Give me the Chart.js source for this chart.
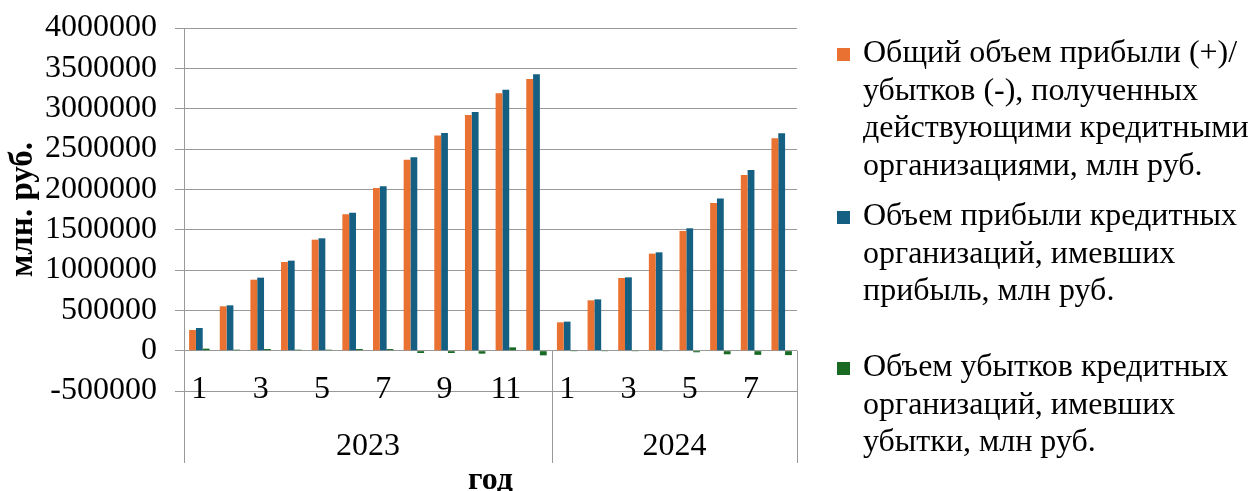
<!DOCTYPE html>
<html lang="ru">
<head>
<meta charset="utf-8">
<title>Прибыль и убытки кредитных организаций</title>
<script src="https://cdn.jsdelivr.net/npm/chart.js@4.4.1/dist/chart.umd.min.js"></script>
<style>
  html, body { margin: 0; padding: 0; background: #fff; }
  #wrap { position: relative; width: 1251px; height: 491px; }
  #legend { position: absolute; left: 0; top: 0; font-family: "Liberation Serif", "Times New Roman", serif; font-size: 32px; color: #000; }
  .lg-item { position: absolute; left: 837px; line-height: 37.5px; }
  .lg-box { position: absolute; left: 0; width: 13px; height: 13px; }
  .lg-text { position: absolute; left: 26px; white-space: nowrap; }
</style>
</head>
<body>
<div id="wrap">
  <canvas id="chart" width="1251" height="491"></canvas>
  <div id="legend"></div>
</div>
<script>
// ── Data ─────────────────────────────────────────────
const years = ['2023', '2024'];
const monthsPerYear = [12, 8];
const monthLabels = ['1', '2', '3', '4', '5', '6', '7', '8', '9', '10', '11', '12',
                     '1', '2', '3', '4', '5', '6', '7', '8'];

// Общий объем прибыли (+)/убытков (-)
const totalResult = [256000, 550000, 880000, 1099000, 1376000, 1690000, 2017000, 2368000, 2666000, 2922000, 3191000, 3368000,
                     351000, 624000, 901000, 1203000, 1484000, 1831000, 2178000, 2633000];
// Объем прибыли организаций, имевших прибыль
const profitVolume = [281000, 562000, 905000, 1116000, 1393000, 1711000, 2038000, 2397000, 2699000, 2959000, 3236000, 3426000,
                      360000, 636000, 909000, 1219000, 1517000, 1885000, 2240000, 2695000];
// Объем убытков организаций, имевших убытки
const lossVolume = [25000, 12000, 20000, 12000, 12000, 20000, 20000, -29000, -29000, -37000, 41000, -58000,
                    -1500, -3000, -3000, -8000, -20000, -45000, -52000, -55000];

const seriesNames = [
  ['Общий объем прибыли (+)/', 'убытков (-), полученных', 'действующими кредитными', 'организациями, млн руб.'],
  ['Объем прибыли кредитных', 'организаций, имевших', 'прибыль, млн руб.'],
  ['Объем убытков кредитных', 'организаций, имевших', 'убытки, млн руб.']
];
const seriesColors = ['#E97132', '#156082', '#196B24'];
const yTicks = [-500000, 0, 500000, 1000000, 1500000, 2000000, 2500000, 3000000, 3500000, 4000000];

const FONT = '"Liberation Serif", "Times New Roman", serif';
const gridColor = '#999999';

// ── Category axis with month / year levels ───────────
const categoryAxis = {
  id: 'categoryAxis',
  afterDraw(chart) {
    const { ctx, chartArea: a, scales: { x, y } } = chart;
    const zero = y.getPixelForValue(0);
    const half = (x.getPixelForValue(1) - x.getPixelForValue(0)) / 2;
    const groupBottom = a.bottom + 72;

    ctx.save();
    ctx.strokeStyle = gridColor;
    ctx.lineWidth = 1;
    ctx.beginPath();
    ctx.moveTo(a.left + 0.5, a.bottom);
    ctx.lineTo(a.left + 0.5, groupBottom);
    let idx = 0;
    monthsPerYear.forEach(n => {
      idx += n;
      const px = Math.round(x.getPixelForValue(idx - 1) + half) + 0.5;
      ctx.moveTo(px, zero);
      ctx.lineTo(px, groupBottom);
    });
    ctx.stroke();

    ctx.fillStyle = '#000';
    ctx.textAlign = 'center';
    ctx.textBaseline = 'middle';
    ctx.font = '32px ' + FONT;
    monthLabels.forEach((m, i) => {
      if (Number(m) % 2 === 1) ctx.fillText(m, x.getPixelForValue(i), a.bottom - 1);
    });

    let start = 0;
    years.forEach((yr, k) => {
      const from = x.getPixelForValue(start) - half;
      const to = x.getPixelForValue(start + monthsPerYear[k] - 1) + half;
      ctx.fillText(yr, (from + to) / 2, a.bottom + 56);
      start += monthsPerYear[k];
    });

    ctx.font = 'bold 32px ' + FONT;
    ctx.fillText('год', (a.left + a.right) / 2, a.bottom + 90);
    ctx.restore();
  }
};

// ── Chart ────────────────────────────────────────────
const datasets = [totalResult, profitVolume, lossVolume].map((data, i) => ({
  label: seriesNames[i].join(' '),
  data,
  backgroundColor: seriesColors[i],
  borderWidth: 0,
  categoryPercentage: 0.667,
  barPercentage: 1
}));

new Chart(document.getElementById('chart'), {
  type: 'bar',
  data: { labels: monthLabels, datasets },
  options: {
    responsive: false,
    animation: false,
    layout: { padding: { top: 28, right: 454, bottom: 100, left: 0 } },
    plugins: { legend: { display: false }, tooltip: { enabled: false } },
    scales: {
      x: { display: false },
      y: {
        min: yTicks[0],
        max: yTicks[yTicks.length - 1],
        afterFit(scale) {
          scale.width = 184;
          scale.paddingTop = 0;
          scale.paddingBottom = 0;
        },
        afterBuildTicks(scale) { scale.ticks = yTicks.map(v => ({ value: v })); },
        ticks: {
          color: '#000',
          font: { family: FONT, size: 32 },
          padding: 18,
          autoSkip: false,
          callback: v => String(v)
        },
        grid: { color: gridColor, lineWidth: 1, tickLength: 9 },
        border: { display: true, color: gridColor },
        title: {
          display: true,
          text: 'млн. руб.',
          color: '#000',
          font: { family: FONT, size: 33, weight: 'bold' },
          padding: { top: 4, bottom: 0 }
        }
      }
    }
  },
  plugins: [categoryAxis]
});

// ── Legend (right side) ──────────────────────────────
const legendTops = [52, 215, 366];
const legend = document.getElementById('legend');
seriesNames.forEach((lines, i) => {
  const item = document.createElement('div');
  item.className = 'lg-item';
  item.style.top = (legendTops[i] - 18.75) + 'px';
  item.innerHTML = '<div class="lg-box" style="top:15px;background:' + seriesColors[i] + '"></div>' +
    '<div class="lg-text">' + lines.join('<br>') + '</div>';
  legend.appendChild(item);
});
</script>
</body>
</html>
